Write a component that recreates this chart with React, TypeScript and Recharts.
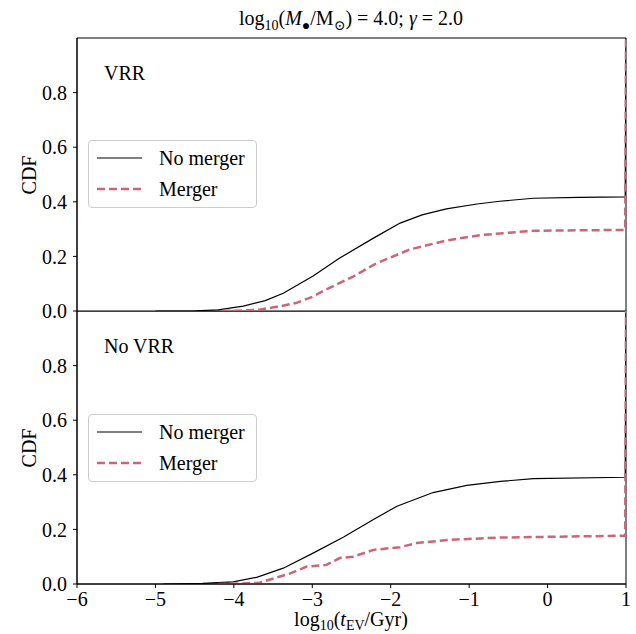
import React from 'react';
import { LineChart, Line, XAxis, YAxis, Legend, ReferenceArea } from 'recharts';

const xTicks = [-6, -5, -4, -3, -2, -1, 0, 1];
const yTicks = [0, 0.2, 0.4, 0.6, 0.8];

const vrrNoMergerX = [-5.0, -4.5, -4.2, -3.88, -3.6, -3.37, -2.99, -2.65, -2.22, -1.88, -1.6, -1.29, -0.9, -0.61, -0.18, 0.4, 0.99, 1];
const vrrNoMergerY = [0, 0.001, 0.004, 0.018, 0.038, 0.065, 0.128, 0.194, 0.267, 0.322, 0.352, 0.374, 0.392, 0.402, 0.413, 0.416, 0.418, 1];

const vrrMergerX = [-4.15, -3.9, -3.67, -3.4, -3.2, -3.0, -2.82, -2.48, -2.18, -1.75, -1.29, -0.86, -0.18, 0.99, 1];
const vrrMergerY = [0, 0.002, 0.005, 0.018, 0.03, 0.052, 0.079, 0.126, 0.175, 0.226, 0.258, 0.278, 0.294, 0.297, 1];

const noVrrNoMergerX = [-4.9, -4.4, -4.01, -3.7, -3.37, -2.99, -2.6, -2.22, -1.92, -1.46, -1.03, -0.6, -0.18, 0.99, 1];
const noVrrNoMergerY = [0, 0.002, 0.008, 0.025, 0.058, 0.113, 0.172, 0.236, 0.285, 0.335, 0.361, 0.376, 0.386, 0.391, 1];

const noVrrMergerX = [-4.2, -3.9, -3.67, -3.28, -3.07, -2.82, -2.65, -2.48, -2.22, -1.88, -1.67, -1.24, -0.61, 0.99, 1];
const noVrrMergerY = [0, 0.002, 0.005, 0.039, 0.064, 0.07, 0.095, 0.1, 0.125, 0.135, 0.15, 0.162, 0.17, 0.177, 1];

const zip = (xs: number[], ys: number[]) => xs.map((x, i) => ({ x, y: ys[i] }));

const FONT = '"Liberation Serif", "DejaVu Serif", serif';
const RED = '#CC6677';

const fmtY = (v: number) => v.toFixed(1);
const fmtX = (v: number) => (v < 0 ? '\u2212' + Math.abs(v) : String(v));

const LegendBox = () => (
  <div
    style={{
      width: 167,
      height: 66,
      border: '1px solid #cccccc',
      borderRadius: 4,
      background: 'rgba(255,255,255,0.8)',
      fontFamily: FONT,
      fontSize: 20,
      color: '#000',
      position: 'relative',
    }}
  >
    <svg width={167} height={66} style={{ position: 'absolute', left: 0, top: 0 }}>
      <line x1={8} x2={53} y1={17} y2={17} stroke="#000" strokeWidth={1.2} />
      <line x1={8} x2={53} y1={48} y2={48} stroke={RED} strokeWidth={2.5} strokeDasharray="8 4" />
      <text x={70} y={24} fontFamily={FONT} fontSize={20} fill="#000">No merger</text>
      <text x={70} y={55} fontFamily={FONT} fontSize={20} fill="#000">Merger</text>
    </svg>
  </div>
);

const tickStyle = { fontFamily: FONT, fontSize: 20, fill: '#000' };

function Panel(props: {
  height: number;
  top: number;
  marginTop: number;
  marginBottom: number;
  noMerger: { x: number; y: number }[];
  merger: { x: number; y: number }[];
  showX: boolean;
  legendTop: number;
}) {
  const { height, top, marginTop, marginBottom, noMerger, merger, showX, legendTop } = props;
  return (
    <div style={{ position: 'absolute', left: 0, top }}>
      <LineChart width={636} height={height} margin={{ top: marginTop, right: 10, bottom: marginBottom, left: 0 }}>
        <XAxis
          dataKey="x"
          type="number"
          domain={[-6, 1]}
          ticks={xTicks}
          allowDataOverflow
          hide={!showX}
          height={showX ? 50 : 0}
          interval={0}
          tickFormatter={fmtX}
          tick={tickStyle}
          tickSize={4}
          tickMargin={4}
          stroke="#000"
          axisLine={{ stroke: '#000', strokeWidth: 1 }}
          tickLine={{ stroke: '#000' }}
        />
        <YAxis
          type="number"
          domain={[0, 1]}
          ticks={yTicks}
          allowDataOverflow
          interval={0}
          width={77}
          tickFormatter={fmtY}
          tick={tickStyle}
          tickSize={4}
          tickMargin={6}
          axisLine={{ stroke: '#000', strokeWidth: 1 }}
          tickLine={{ stroke: '#000' }}
        />
        <ReferenceArea x1={-6} x2={1} y1={0} y2={1} fill="none" fillOpacity={0} stroke="#000" strokeWidth={1} ifOverflow="visible" />
        <Legend
          layout="horizontal"
          verticalAlign="middle"
          align="center"
          content={() => <LegendBox />}
          wrapperStyle={{ left: 88, top: legendTop, width: 169, height: 68 }}
        />
        <Line
          data={noMerger}
          dataKey="y"
          name="No merger"
          type="linear"
          stroke="#000"
          strokeWidth={1.2}
          dot={false}
          isAnimationActive={false}
        />
        <Line
          data={merger}
          dataKey="y"
          name="Merger"
          type="linear"
          stroke={RED}
          strokeWidth={2.5}
          strokeDasharray="8 4"
          dot={false}
          isAnimationActive={false}
        />
      </LineChart>
    </div>
  );
}

export default function App() {
  return (
    <div style={{ position: 'absolute', left: 0, top: 0, width: 636, height: 634, background: '#fff', fontFamily: FONT }}>
      <Panel height={320} top={0} marginTop={38} marginBottom={9} noMerger={zip(vrrNoMergerX, vrrNoMergerY)} merger={zip(vrrMergerX, vrrMergerY)} showX={false} legendTop={140} />
      <Panel height={323} top={311} marginTop={0} marginBottom={0} noMerger={zip(noVrrNoMergerX, noVrrNoMergerY)} merger={zip(noVrrMergerX, noVrrMergerY)} showX={true} legendTop={103} />
      <svg width={636} height={634} style={{ position: 'absolute', left: 0, top: 0, pointerEvents: 'none' }}>
        <text x={351} y={25} textAnchor="middle" fontFamily={FONT} fontSize={20} fill="#000">
          log<tspan fontSize={14} dy={5}>10</tspan>
          <tspan dy={-5}>(</tspan>
          <tspan fontStyle="italic">M</tspan>
          <tspan fontSize={14} dy={5}>●</tspan>
          <tspan dy={-5}>/M</tspan>
          <tspan fontSize={14} dy={5}>⊙</tspan>
          <tspan dy={-5}>) = 4.0; </tspan>
          <tspan fontStyle="italic">γ</tspan>
          <tspan> = 2.0</tspan>
        </text>
        <text x={351} y={626} textAnchor="middle" fontFamily={FONT} fontSize={20} fill="#000">
          log<tspan fontSize={14} dy={4}>10</tspan>
          <tspan dy={-4}>(</tspan>
          <tspan fontStyle="italic">t</tspan>
          <tspan fontSize={14} dy={4}>EV</tspan>
          <tspan dy={-4}>/Gyr)</tspan>
        </text>
        <text x={104} y={80} fontFamily={FONT} fontSize={20} fill="#000">VRR</text>
        <text x={104} y={353} fontFamily={FONT} fontSize={20} fill="#000">No VRR</text>
        <text x={0} y={0} transform="translate(36,175) rotate(-90)" textAnchor="middle" fontFamily={FONT} fontSize={20} fill="#000">CDF</text>
        <text x={0} y={0} transform="translate(36,448) rotate(-90)" textAnchor="middle" fontFamily={FONT} fontSize={20} fill="#000">CDF</text>
      </svg>
    </div>
  );
}
